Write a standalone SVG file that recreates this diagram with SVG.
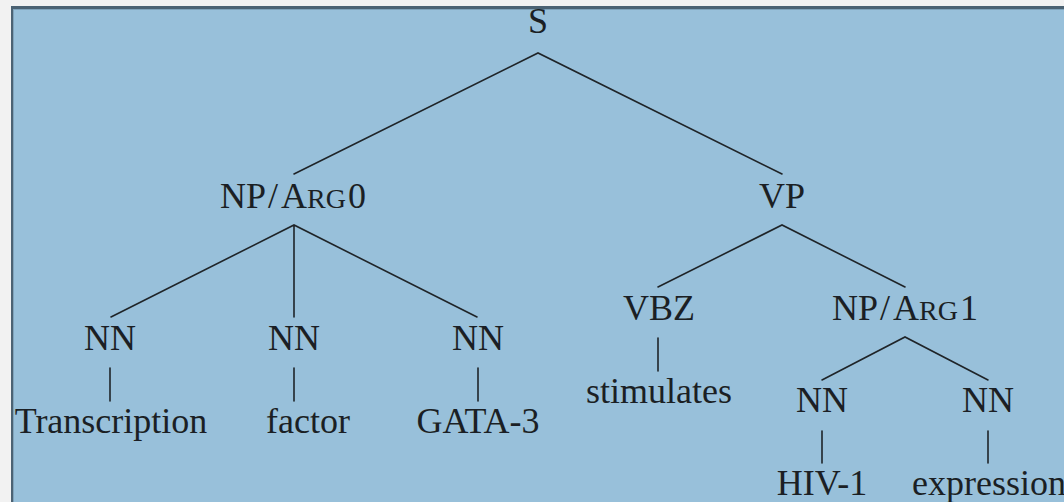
<svg xmlns="http://www.w3.org/2000/svg" width="1064" height="502" viewBox="0 0 1064 502">
  <style>
    .lbl { font-family: "Liberation Serif", "Times New Roman", serif; font-size: 36px; fill: #1b1f24; text-anchor: middle; }
    .sc { font-size: 28px; }
    .edge { stroke: #1f2428; stroke-width: 1.6; fill: none; stroke-linecap: round; }
  </style>

  <!-- page and panel -->
  <rect x="0" y="0" width="1064" height="502" fill="#f2f2f2"/>
  <rect x="11" y="6" width="1060" height="500" fill="#98c0da"/>
  <path d="M11 7.5 H1064" stroke="#4b6273" stroke-width="3"/>
  <path d="M12 6 V502" stroke="#4b6273" stroke-width="2"/>
  <path d="M13 9.5 H1064 M13.5 9 V502" stroke="#7fa3bb" stroke-width="1"/>

  <!-- tree edges -->
  <g id="connectors" class="edge">
    <path d="M294 174 L538 53 L782 174"/>
    <path d="M111 317 L294 225 L477 317 M294 225 V317"/>
    <path d="M658 287 L782 225 L905 287"/>
    <path d="M822 380 L905 337 L988 380"/>
    <path d="M110 368 V401"/>
    <path d="M294 368 V401"/>
    <path d="M478 368 V401"/>
    <path d="M658 338 V371"/>
    <path d="M822 431 V463"/>
    <path d="M988 431 V463"/>
  </g>

  <!-- nodes -->
  <g id="n-s"><text class="lbl" x="538" y="33">S</text></g>
  <g id="n-np-arg0"><text class="lbl" style="text-anchor:start" y="208"><tspan x="220">NP</tspan><tspan x="268">/</tspan><tspan x="281">A</tspan><tspan class="sc" x="307">RG</tspan><tspan x="348">0</tspan></text></g>
  <g id="n-vp"><text class="lbl" x="782" y="208">VP</text></g>
  <g id="n-nn1"><text class="lbl" x="110" y="350">NN</text></g>
  <g id="n-nn2"><text class="lbl" x="294" y="350">NN</text></g>
  <g id="n-nn3"><text class="lbl" x="478" y="350">NN</text></g>
  <g id="n-vbz"><text class="lbl" x="659" y="320">VBZ</text></g>
  <g id="n-np-arg1"><text class="lbl" style="text-anchor:start" y="320"><tspan x="832">NP</tspan><tspan x="880">/</tspan><tspan x="893">A</tspan><tspan class="sc" x="919">RG</tspan><tspan x="960">1</tspan></text></g>
  <g id="n-nn4"><text class="lbl" x="822" y="412">NN</text></g>
  <g id="n-nn5"><text class="lbl" x="988" y="412">NN</text></g>
  <g id="w-transcription"><text class="lbl" x="111" y="433">Transcription</text></g>
  <g id="w-factor"><text class="lbl" x="308" y="433">factor</text></g>
  <g id="w-gata3"><text class="lbl" x="478" y="433">GATA-3</text></g>
  <g id="w-stimulates"><text class="lbl" x="659" y="403">stimulates</text></g>
  <g id="w-hiv1"><text class="lbl" x="822" y="495">HIV-1</text></g>
  <g id="w-expression"><text class="lbl" style="text-anchor:start" x="912" y="495">expression</text></g>
</svg>
